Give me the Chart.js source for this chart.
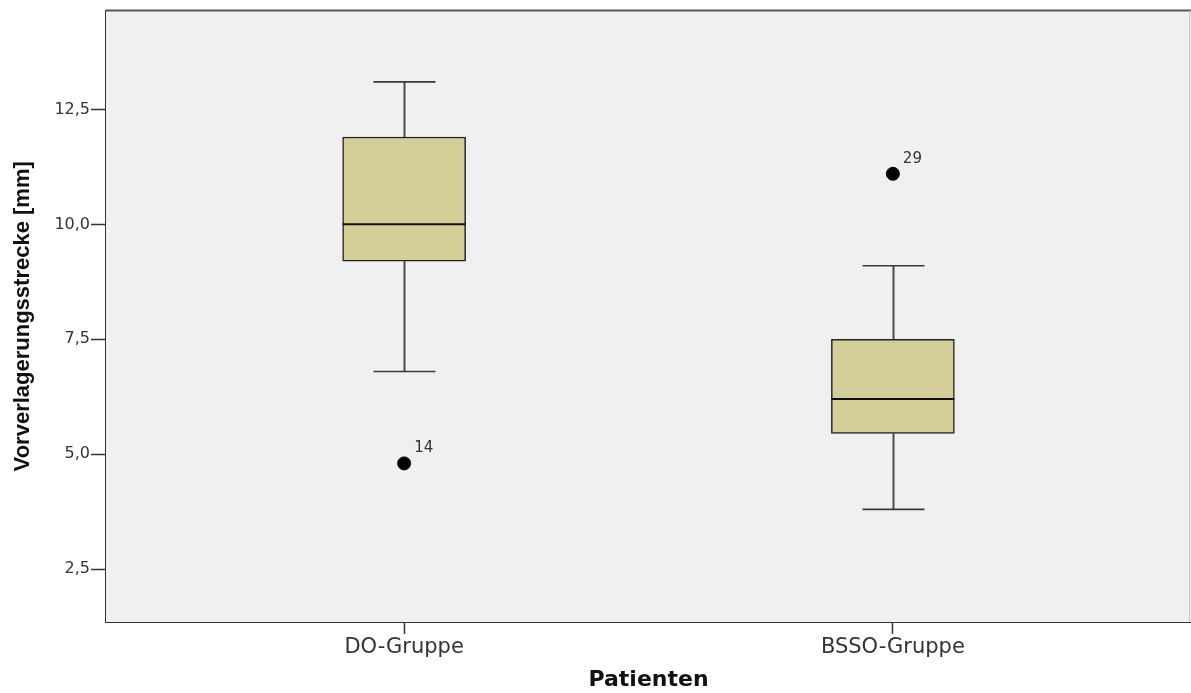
<!DOCTYPE html>
<html>
<head>
<meta charset="utf-8">
<script src="https://cdn.jsdelivr.net/npm/chart.js@4.4.1/dist/chart.umd.min.js"></script>
<style>
  html, body { margin: 0; padding: 0; background: #ffffff; }
  canvas { display: block; }
</style>
</head>
<body>
<canvas id="chart" width="1191" height="693"></canvas>
<script>
// Box plot statistics per patient group
const groups       = ['DO-Gruppe', 'BSSO-Gruppe'];
const whiskerLow   = [6.8, 3.8];
const quartile1    = [9.2, 5.45];
const medians      = [10.0, 6.2];
const quartile3    = [11.9, 7.5];
const whiskerHigh  = [13.1, 9.1];

// Outliers (group index starting at 1, value, case number)
const outlierGroup = [1, 2];
const outlierValue = [4.8, 11.1];
const outlierCase  = ['14', '29'];

// Value axis ticks
const yTicks = [2.5, 5.0, 7.5, 10.0, 12.5];

const boxData = groups.map((g, i) => ({ x: i + 1, y: [quartile1[i], quartile3[i]] }));
const outlierData = outlierGroup.map((g, i) => ({ x: g, y: outlierValue[i], label: outlierCase[i] }));

const fmt = v => v.toFixed(1).replace('.', ',');

// Plot background, frame lines, whiskers, medians and outlier case labels
const boxPlotDecor = {
  id: 'boxPlotDecor',
  beforeDatasetsDraw(chart) {
    const { ctx, chartArea: a } = chart;
    ctx.save();
    ctx.fillStyle = '#f0f0f0';
    ctx.fillRect(a.left, a.top, a.right - a.left, a.bottom - a.top);
    // top frame
    ctx.strokeStyle = '#555555';
    ctx.lineWidth = 2;
    ctx.beginPath();
    ctx.moveTo(a.left, a.top);
    ctx.lineTo(a.right, a.top);
    ctx.stroke();
    // right frame
    ctx.strokeStyle = '#c8c8c8';
    ctx.lineWidth = 1;
    ctx.beginPath();
    ctx.moveTo(a.right - 1.5, a.top);
    ctx.lineTo(a.right - 1.5, a.bottom);
    ctx.stroke();

    // whiskers and caps
    const xs = chart.scales.x, ys = chart.scales.y;
    const capHalf = 31;
    groups.forEach((g, i) => {
      const cx = Math.round(xs.getPixelForValue(i + 1)) + 0.5;
      ctx.strokeStyle = '#4a4a4a';
      ctx.lineWidth = 2;
      ctx.beginPath();
      ctx.moveTo(cx, ys.getPixelForValue(quartile3[i]));
      ctx.lineTo(cx, ys.getPixelForValue(whiskerHigh[i]));
      ctx.moveTo(cx, ys.getPixelForValue(quartile1[i]));
      ctx.lineTo(cx, ys.getPixelForValue(whiskerLow[i]));
      ctx.stroke();
      ctx.strokeStyle = '#3a3a3a';
      ctx.lineWidth = 1.6;
      ctx.beginPath();
      [whiskerHigh[i], whiskerLow[i]].forEach(v => {
        const py = ys.getPixelForValue(v);
        ctx.moveTo(cx - capHalf, py);
        ctx.lineTo(cx + capHalf, py);
      });
      ctx.stroke();
    });
    ctx.restore();
  },
  afterDatasetsDraw(chart) {
    const { ctx } = chart;
    const xs = chart.scales.x, ys = chart.scales.y;
    const boxMeta = chart.getDatasetMeta(0);
    ctx.save();
    // medians
    ctx.strokeStyle = '#111111';
    ctx.lineWidth = 2;
    boxMeta.data.forEach((bar, i) => {
      const half = bar.width / 2;
      const py = ys.getPixelForValue(medians[i]);
      ctx.beginPath();
      ctx.moveTo(bar.x - half, py);
      ctx.lineTo(bar.x + half, py);
      ctx.stroke();
    });
    // outlier case numbers
    ctx.fillStyle = '#333333';
    ctx.font = '15px "DejaVu Sans"';
    ctx.textAlign = 'left';
    ctx.textBaseline = 'middle';
    outlierData.forEach(p => {
      ctx.fillText(p.label, xs.getPixelForValue(p.x) + 10, ys.getPixelForValue(p.y) - 15);
    });
    ctx.restore();
  }
};

new Chart(document.getElementById('chart'), {
  type: 'bar',
  data: {
    datasets: [
      {
        type: 'bar',
        data: boxData,
        backgroundColor: '#d3ce98',
        borderColor: '#222222',
        borderWidth: 1.5,
        borderSkipped: false,
        barThickness: 123
      },
      {
        type: 'scatter',
        data: outlierData,
        backgroundColor: '#000000',
        borderColor: '#000000',
        pointRadius: 6.5,
        pointHoverRadius: 6.5
      }
    ]
  },
  options: {
    responsive: false,
    animation: false,
    devicePixelRatio: 1,
    layout: { autoPadding: false, padding: { top: 10, right: 0, bottom: 0, left: 0 } },
    plugins: { legend: { display: false }, tooltip: { enabled: false } },
    scales: {
      x: {
        type: 'linear',
        offset: false,
        min: 0.39,
        max: 2.61,
        afterFit: s => { s.height = 71; s.paddingRight = 0; s.paddingLeft = 0; },
        afterBuildTicks: s => { s.ticks = groups.map((g, i) => ({ value: i + 1 })); },
        ticks: {
          callback: v => groups[Math.round(v) - 1],
          color: '#333333',
          font: { family: '"DejaVu Sans"', size: 21 },
          padding: 1,
          maxRotation: 0,
          autoSkip: false
        },
        grid: { offset: false, drawOnChartArea: false, drawTicks: true, tickLength: 12, tickColor: '#333333', tickWidth: 1.5 },
        border: { display: true, color: '#333333', width: 2 },
        title: {
          display: true,
          text: 'Patienten',
          color: '#111111',
          font: { family: '"DejaVu Sans"', size: 22, weight: 'bold' },
          padding: { top: 0, bottom: 0 }
        }
      },
      y: {
        type: 'linear',
        min: 1.35,
        max: 14.65,
        afterFit: s => { s.width = 106; },
        afterBuildTicks: s => { s.ticks = yTicks.map(v => ({ value: v })); },
        ticks: {
          callback: v => fmt(v),
          color: '#333333',
          font: { family: '"DejaVu Sans"', size: 16 },
          padding: 1
        },
        grid: { drawOnChartArea: false, drawTicks: true, tickLength: 15, tickColor: '#333333', tickWidth: 1.5 },
        border: { display: true, color: '#333333', width: 2 },
        title: {
          display: true,
          text: 'Vorverlagerungsstrecke [mm]',
          color: '#111111',
          font: { family: '"Liberation Sans"', size: 22, weight: 'bold' },
          padding: { top: 10, bottom: 0 }
        }
      }
    }
  },
  plugins: [boxPlotDecor]
});
</script>
</body>
</html>
